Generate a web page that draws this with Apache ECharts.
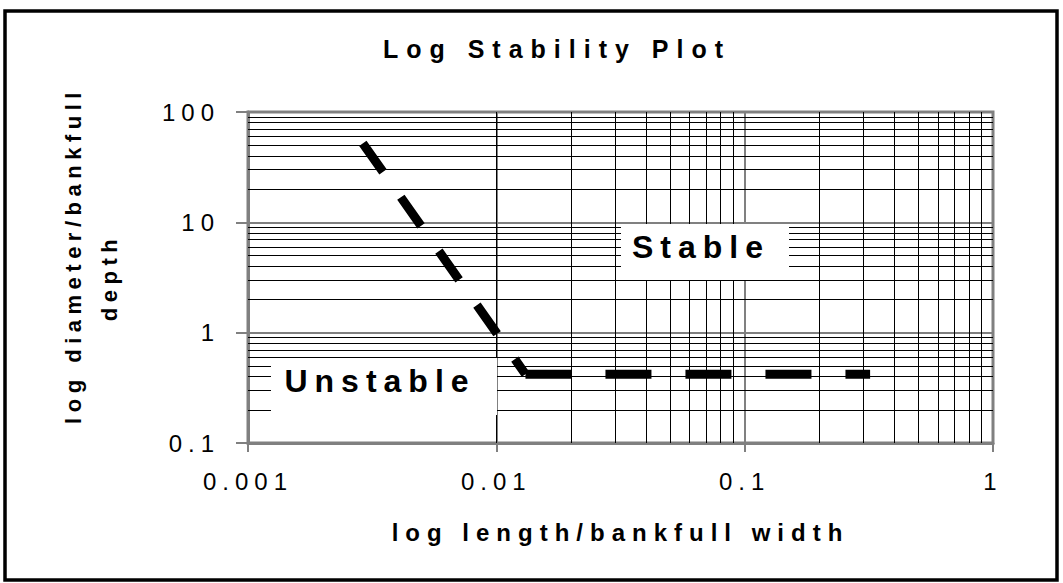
<!DOCTYPE html>
<html>
<head>
<meta charset="utf-8">
<title>Log Stability Plot</title>
<script src="https://cdn.jsdelivr.net/npm/echarts@6/dist/echarts.min.js"></script>
<style>
  html, body { margin: 0; padding: 0; background: #fff; }
  #chart { width: 1063px; height: 583px; }
  /* the source picture is stretched sideways, letters come out widely spaced */
  #chart text { letter-spacing: 6px; }
  #chart text[style*="bold"] { letter-spacing: 7px; }
  #chart text[style*="22px"] { letter-spacing: 5.5px; }
  #chart text[style*="25px"] { letter-spacing: 8px; }
</style>
</head>
<body>
<div id="chart"></div>
<script>
// threshold line: length/bankfull width vs diameter/bankfull depth
const lineX = [0.0029, 0.01, 0.0131, 0.32];
const lineY = [52, 1, 0.42, 0.42];
const kinkIndex = 2; // where the falling part turns flat

const xTickLabels = ['0.001', '0.01', '0.1', '1'];
const yTickLabels = ['0.1', '1', '10', '100'];

// minor grid lines inside each decade
const minorSteps = [2, 3, 4, 5, 6, 7, 8, 9];
const xDecades = [0.001, 0.01, 0.1];
const yDecades = [0.1, 1, 10];

const font = 'Liberation Sans';

const points = lineX.map((x, i) => [x, lineY[i]]);

function minorValues(decades) {
    const out = [];
    decades.forEach(d => {
        minorSteps.forEach(s => out.push(parseFloat((d * s).toPrecision(6))));
    });
    return out;
}

function tickFormatter(labels) {
    return function (v) {
        const hit = labels.find(l => Math.abs(Math.log10(parseFloat(l)) - Math.log10(v)) < 1e-6);
        return hit || '';
    };
}

const minorLines = minorValues(xDecades).map(v => ({ xAxis: v }))
    .concat(minorValues(yDecades).map(v => ({ yAxis: v })));

const yNameStyle = { fontSize: 22, fontWeight: 'bold', fontFamily: font, color: '#000', lineHeight: 36 };

const chart = echarts.init(document.getElementById('chart'), null, { renderer: 'svg' });

const option = {
    animation: false,
    title: {
        text: 'Log Stability Plot',
        left: 557,
        top: 49,
        padding: 0,
        textAlign: 'center',
        textVerticalAlign: 'middle',
        textStyle: { fontSize: 25, fontWeight: 'bold', fontFamily: font, color: '#000' }
    },
    grid: {
        left: 248, right: 70, top: 112, bottom: 140,
        show: true,
        borderColor: '#808080',
        borderWidth: 3
    },
    xAxis: {
        type: 'log',
        logBase: 10,
        min: 0.001,
        max: 1,
        name: 'log length/bankfull width',
        nameLocation: 'middle',
        nameGap: 77,
        nameTextStyle: { fontSize: 24, fontWeight: 'bold', fontFamily: font, color: '#000' },
        axisLine: { show: true, onZero: false, lineStyle: { color: '#808080', width: 3 } },
        axisTick: { show: true, length: 9, lineStyle: { color: '#808080', width: 2 } },
        axisLabel: { margin: 26, fontSize: 24, fontFamily: font, color: '#000', formatter: tickFormatter(xTickLabels) },
        splitLine: { show: true, lineStyle: { color: '#808080', width: 2 } }
    },
    yAxis: {
        type: 'log',
        logBase: 10,
        min: 0.1,
        max: 100,
        name: '{a|log diameter/bankfull}\n{b|depth}',
        nameLocation: 'middle',
        nameRotate: 90,
        nameGap: 121,
        nameTextStyle: Object.assign({}, yNameStyle, {
            rich: {
                a: Object.assign({}, yNameStyle, { padding: [0, 0, 0, 44] }),
                b: yNameStyle
            }
        }),
        axisLine: { show: true, onZero: false, lineStyle: { color: '#808080', width: 3 } },
        axisTick: { show: true, length: 12, lineStyle: { color: '#808080', width: 2 } },
        axisLabel: { margin: 28, fontSize: 24, fontFamily: font, color: '#000', formatter: tickFormatter(yTickLabels) },
        splitLine: { show: true, lineStyle: { color: '#808080', width: 2 } }
    },
    series: [
        {
            // carries the minor grid
            type: 'line',
            data: [],
            silent: true,
            z: 1,
            markLine: {
                silent: true,
                symbol: ['none', 'none'],
                label: { show: false },
                emphasis: { disabled: true },
                lineStyle: { type: 'solid', color: '#000', width: 1 },
                data: minorLines
            }
        },
        {
            type: 'line',
            data: points.slice(0, kinkIndex + 1),
            symbol: 'none',
            z: 5,
            lineStyle: { color: '#000', width: 9, type: [35, 31], cap: 'butt' }
        },
        {
            type: 'line',
            data: points.slice(kinkIndex),
            symbol: 'none',
            z: 5,
            lineStyle: { color: '#000', width: 9, type: [46, 34], cap: 'butt' }
        }
    ],
    graphic: [
        {
            type: 'rect', silent: true, z: 100,
            shape: { x: 5, y: 11, width: 1052, height: 569 },
            style: { fill: 'none', stroke: '#000', lineWidth: 3.5 }
        },
        {
            type: 'rect', silent: true, z: 50,
            shape: { x: 621, y: 224, width: 168, height: 56 },
            style: { fill: '#fff' }
        },
        {
            type: 'text', silent: true, z: 51, x: 701, y: 247,
            style: {
                text: 'Stable', font: 'bold 32px "Liberation Sans"', fill: '#000',
                align: 'center', verticalAlign: 'middle', textAlign: 'center', textVerticalAlign: 'middle'
            }
        },
        {
            type: 'rect', silent: true, z: 50,
            shape: { x: 271, y: 358, width: 226, height: 57 },
            style: { fill: '#fff' }
        },
        {
            type: 'text', silent: true, z: 51, x: 380, y: 381,
            style: {
                text: 'Unstable', font: 'bold 32px "Liberation Sans"', fill: '#000',
                align: 'center', verticalAlign: 'middle', textAlign: 'center', textVerticalAlign: 'middle'
            }
        }
    ]
};

chart.setOption(option);
</script>
</body>
</html>
